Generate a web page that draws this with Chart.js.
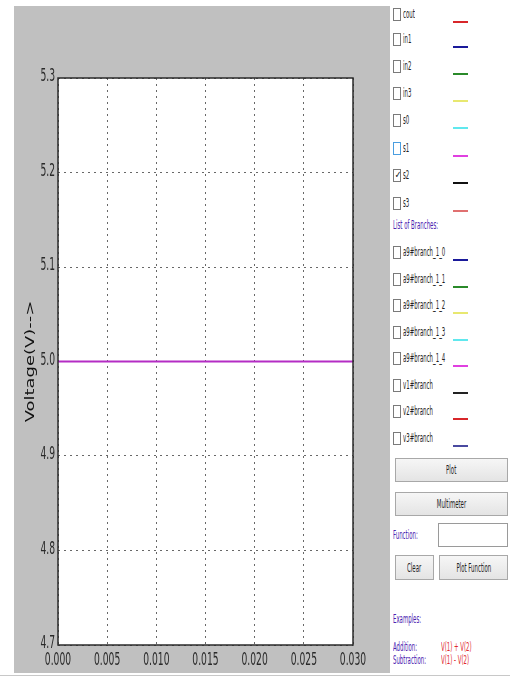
<!DOCTYPE html>
<html>
<head>
<meta charset="utf-8">
<script src="https://cdn.jsdelivr.net/npm/chart.js@4/dist/chart.umd.min.js"></script>
<style>
  html, body { margin: 0; padding: 0; background: #ffffff; width: 510px; height: 680px; overflow: hidden; }
  #plotPanel { position: absolute; left: 14px; top: 6px; width: 376px; height: 667px; }
  #bottomRule { position: absolute; left: 0; top: 675px; width: 510px; height: 1px; background: #c8c8c8; }
  .side { position: absolute; font-family: "DejaVu Sans Condensed", "Liberation Sans Narrow", sans-serif; font-size: 12px; line-height: 13px; white-space: nowrap; transform-origin: left center; transform: scaleX(0.5); color: #222; }
  .box { position: absolute; width: 8px; height: 13px; border: 1px solid #7a7a7a; background: #fff; box-sizing: border-box; }
  .box.focus { border-color: #4a9ee0; }
  .tick { position: absolute; left: 0px; top: -1px; font-size: 10px; font-family: "DejaVu Sans", sans-serif; color: #111; transform: scaleX(0.8); }
  .swatch { position: absolute; width: 15px; height: 2px; }
  .btn { position: absolute; border: 1px solid #a8a8a8; background: linear-gradient(#f6f6f6, #e4e4e4); box-sizing: border-box; display: flex; align-items: center; justify-content: center; }
  .btn span { font-family: "DejaVu Sans Condensed", "Liberation Sans Narrow", sans-serif; font-size: 12px; transform: scaleX(0.5); white-space: nowrap; color: #222; }
  .input { position: absolute; border: 1px solid #9a9a9a; background: #fff; box-sizing: border-box; }
  .purple { color: #4a22b0; }
  .red { color: #e0282c; }
</style>
</head>
<body>
<canvas id="plotPanel" width="376" height="667"></canvas>
<div id="sidePanel"></div>
<div id="bottomRule"></div>
<script>
// Simulation output: node s2 voltage over time
const timeValues = [0, 0.005, 0.010, 0.015, 0.020, 0.025, 0.030];
const s2Voltage  = [5.0, 5.0, 5.0, 5.0, 5.0, 5.0, 5.0];

// Axis tick labels
const xTickLabels = ["0.000", "0.005", "0.010", "0.015", "0.020", "0.025", "0.030"];
const yTickLabels = ["4.7", "4.8", "4.9", "5.0", "5.1", "5.2", "5.3"];

// Node and branch lists shown beside the plot
const nodeNames   = ["cout", "in1", "in2", "in3", "s0", "s1", "s2", "s3"];
const nodeColors  = ["#d8262a", "#1a1a9a", "#2a8a2a", "#e8e870", "#60e8ee", "#e040e0", "#111111", "#e07070"];
const branchNames = ["a9#branch_1_0", "a9#branch_1_1", "a9#branch_1_2", "a9#branch_1_3", "a9#branch_1_4", "v1#branch", "v2#branch", "v3#branch"];
const branchColors = ["#1a1a9a", "#2a8a2a", "#e8e870", "#60e8ee", "#e040e0", "#222222", "#d8262a", "#4a4aa0"];
const checkedNodes = ["s2"];

const TICK_FONT = "17px 'DejaVu Sans Condensed', 'DejaVu Sans', sans-serif";
const TICK_SQUEEZE = 0.6;

// Draws text horizontally condensed around its anchor
function squeezedText(ctx, text, x, y, align) {
  ctx.save();
  ctx.translate(x, y);
  ctx.scale(TICK_SQUEEZE, 1);
  ctx.textAlign = align;
  ctx.textBaseline = 'middle';
  ctx.fillText(text, 0, 0);
  ctx.restore();
}

// Gray panel behind the figure, white plotting area, framed box, tick labels and the rotated y label
const framePlugin = {
  id: 'frame',
  beforeDraw(chart) {
    const { ctx, chartArea: a } = chart;
    ctx.save();
    ctx.fillStyle = '#c0c0c0';
    ctx.fillRect(0, 0, chart.width, chart.height);
    ctx.fillStyle = '#ffffff';
    ctx.fillRect(a.left, a.top, a.right - a.left, a.bottom - a.top);
    ctx.restore();
  },
  afterDraw(chart) {
    const { ctx, chartArea: a, scales } = chart;
    ctx.save();
    ctx.strokeStyle = '#2a2a2a';
    ctx.lineWidth = 1.5;
    ctx.strokeRect(a.left, a.top, a.right - a.left, a.bottom - a.top);

    ctx.fillStyle = '#2a2a2a';
    ctx.font = TICK_FONT;
    scales.x.ticks.forEach((t, i) => {
      squeezedText(ctx, xTickLabels[i], scales.x.getPixelForValue(t.value), a.bottom + 16, 'center');
    });
    scales.y.ticks.forEach((t, i) => {
      squeezedText(ctx, yTickLabels[i], a.left - 3, scales.y.getPixelForValue(t.value) - 1, 'right');
    });

    // y axis title, stretched along its reading direction
    ctx.translate(17, (a.top + a.bottom) / 2);
    ctx.rotate(-Math.PI / 2);
    ctx.scale(1.38, 1);
    ctx.fillStyle = '#111';
    ctx.font = "13px 'DejaVu Sans', sans-serif";
    ctx.textAlign = 'center';
    ctx.textBaseline = 'middle';
    ctx.fillText('Voltage(V)-->', 0, 0);
    ctx.restore();
  }
};

const gridStyle = {
  color: 'rgba(40,40,40,0.7)',
  lineWidth: 1,
  tickLength: 0,
  drawTicks: false
};

new Chart(document.getElementById('plotPanel'), {
  type: 'line',
  data: {
    datasets: [{
      label: 's2',
      data: timeValues.map((t, i) => ({ x: t, y: s2Voltage[i] })),
      borderColor: '#b42cc4',
      borderWidth: 2,
      pointRadius: 0,
      tension: 0
    }]
  },
  options: {
    responsive: false,
    animation: false,
    layout: { padding: { left: 0, right: 37, top: 72, bottom: 0 } },
    plugins: { legend: { display: false }, tooltip: { enabled: false } },
    scales: {
      x: {
        type: 'linear',
        min: 0,
        max: 0.03,
        afterBuildTicks(scale) {
          scale.ticks = xTickLabels.map(v => ({ value: parseFloat(v) }));
        },
        afterFit(scale) { scale.height = 28; },
        ticks: { display: false, autoSkip: false },
        grid: Object.assign({}, gridStyle),
        border: { display: false, dash: [2, 4] }
      },
      y: {
        type: 'linear',
        min: 4.7,
        max: 5.3,
        afterBuildTicks(scale) {
          scale.ticks = yTickLabels.map(v => ({ value: parseFloat(v) }));
        },
        afterFit(scale) { scale.width = 44; },
        ticks: { display: false, autoSkip: false },
        grid: Object.assign({}, gridStyle),
        border: { display: false, dash: [2, 4] }
      }
    }
  },
  plugins: [framePlugin]
});

// Side panel: signal selectors and controls
const side = document.getElementById('sidePanel');
function el(tag, cls, style, text) {
  const e = document.createElement(tag);
  if (cls) e.className = cls;
  Object.assign(e.style, style || {});
  if (text !== undefined) e.textContent = text;
  side.appendChild(e);
  return e;
}
function selectorRow(name, color, top) {
  const b = el('div', 'box' + (name === 's1' ? ' focus' : ''), { left: '393px', top: top + 'px' });
  if (checkedNodes.includes(name)) {
    const t = document.createElement('div');
    t.className = 'tick';
    t.textContent = '✓';
    b.appendChild(t);
  }
  el('div', 'side', { left: '403px', top: top + 'px' }, name);
  el('div', 'swatch', { left: '453px', top: (top + 13) + 'px', background: color });
}
const nodeTops = [8, 33, 60, 87, 114, 142, 169, 197];
nodeNames.forEach((n, i) => selectorRow(n, nodeColors[i], nodeTops[i]));
el('div', 'side purple', { left: '393px', top: '219px' }, 'List of Branches:');
const branchTops = [246, 273, 299, 326, 352, 379, 405, 432];
branchNames.forEach((n, i) => selectorRow(n, branchColors[i], branchTops[i]));

function button(label, left, top, w, h) {
  const b = el('div', 'btn', { left: left + 'px', top: top + 'px', width: w + 'px', height: h + 'px' });
  const s = document.createElement('span');
  s.textContent = label;
  b.appendChild(s);
}
button('Plot', 395, 458, 113, 24);
button('Multimeter', 395, 492, 113, 24);
el('div', 'side purple', { left: '393px', top: '529px' }, 'Function:');
el('div', 'input', { left: '438px', top: '523px', width: '70px', height: '24px' });
button('Clear', 395, 555, 39, 25);
button('Plot Function', 439, 555, 69, 25);
el('div', 'side purple', { left: '393px', top: '613px' }, 'Examples:');
el('div', 'side purple', { left: '393px', top: '641px' }, 'Addition:');
el('div', 'side red', { left: '441px', top: '641px' }, 'V(1) + V(2)');
el('div', 'side purple', { left: '393px', top: '654px' }, 'Subtraction:');
el('div', 'side red', { left: '441px', top: '654px' }, 'V(1) - V(2)');
</script>
</body>
</html>
